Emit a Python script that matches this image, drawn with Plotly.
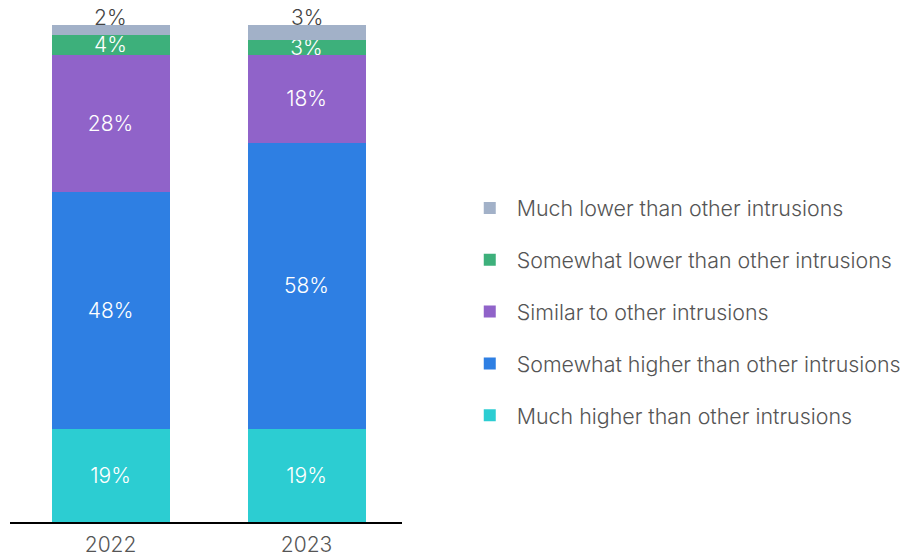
import plotly.graph_objects as go

years = ["2022", "2023"]
series_names = [
    "Much higher than other intrusions",
    "Somewhat higher than other intrusions",
    "Similar to other intrusions",
    "Somewhat lower than other intrusions",
    "Much lower than other intrusions",
]
much_higher = [19, 19]
somewhat_higher = [48, 58]
similar = [28, 18]
somewhat_lower = [4, 3]
much_lower = [2, 3]
series_values = [much_higher, somewhat_higher, similar, somewhat_lower, much_lower]
colors = ["#2CCDD2", "#2E7FE3", "#9063C9", "#3DB07B", "#A2B1C8"]

FS = 21
fig = go.Figure()
n = len(series_names)
for i, (name, vals, col) in enumerate(zip(series_names, series_values, colors)):
    is_top = i == n - 1
    fig.add_trace(go.Bar(
        x=years, y=vals, name=name, marker_color=col, marker_line_width=0,
        text=None if is_top else [f"{v}%" for v in vals],
        textposition="inside",
        insidetextanchor="middle",
        textfont=dict(color="white", size=FS, family="Inter", weight=300),
        cliponaxis=False,
        legendgroup=f"g{i}",
        legendrank=n - i,
    ))

# labels above the top segment
totals = [sum(s[j] for s in series_values) for j in range(len(years))]
for j, yr in enumerate(years):
    fig.add_annotation(x=j, y=totals[j], xref="x", yref="y",
                       text=f"{much_lower[j]}%", showarrow=False,
                       yanchor="bottom", yshift=-7,
                       font=dict(color="#444444", size=FS, family="Inter"))

fig.update_layout(
    width=912, height=551,
    barmode="stack", bargap=0.398,
    plot_bgcolor="white", paper_bgcolor="white",
    margin=dict(l=2, r=518, t=17, b=37),
    font=dict(family="Inter", size=FS, color="#555555", weight=300),
    uniformtext=dict(minsize=FS, mode="show"),
    showlegend=True,
    legend=dict(
        x=1.155, xanchor="left", y=0.4225, yanchor="middle",
        traceorder="grouped", tracegroupgap=21,
        font=dict(family="Inter", size=21.4, color="#555555", weight=300),
        itemwidth=44,
    ),
)
fig.update_xaxes(type="category", showline=True, linecolor="black", linewidth=2, ticks="",
                 ticklabelstandoff=3,
                 tickfont=dict(size=FS, color="#555555", weight=300), range=[-0.513, 1.487])
fig.update_yaxes(visible=False, range=[0, 101], showgrid=False, zeroline=False)

fig.write_html("out.html")
